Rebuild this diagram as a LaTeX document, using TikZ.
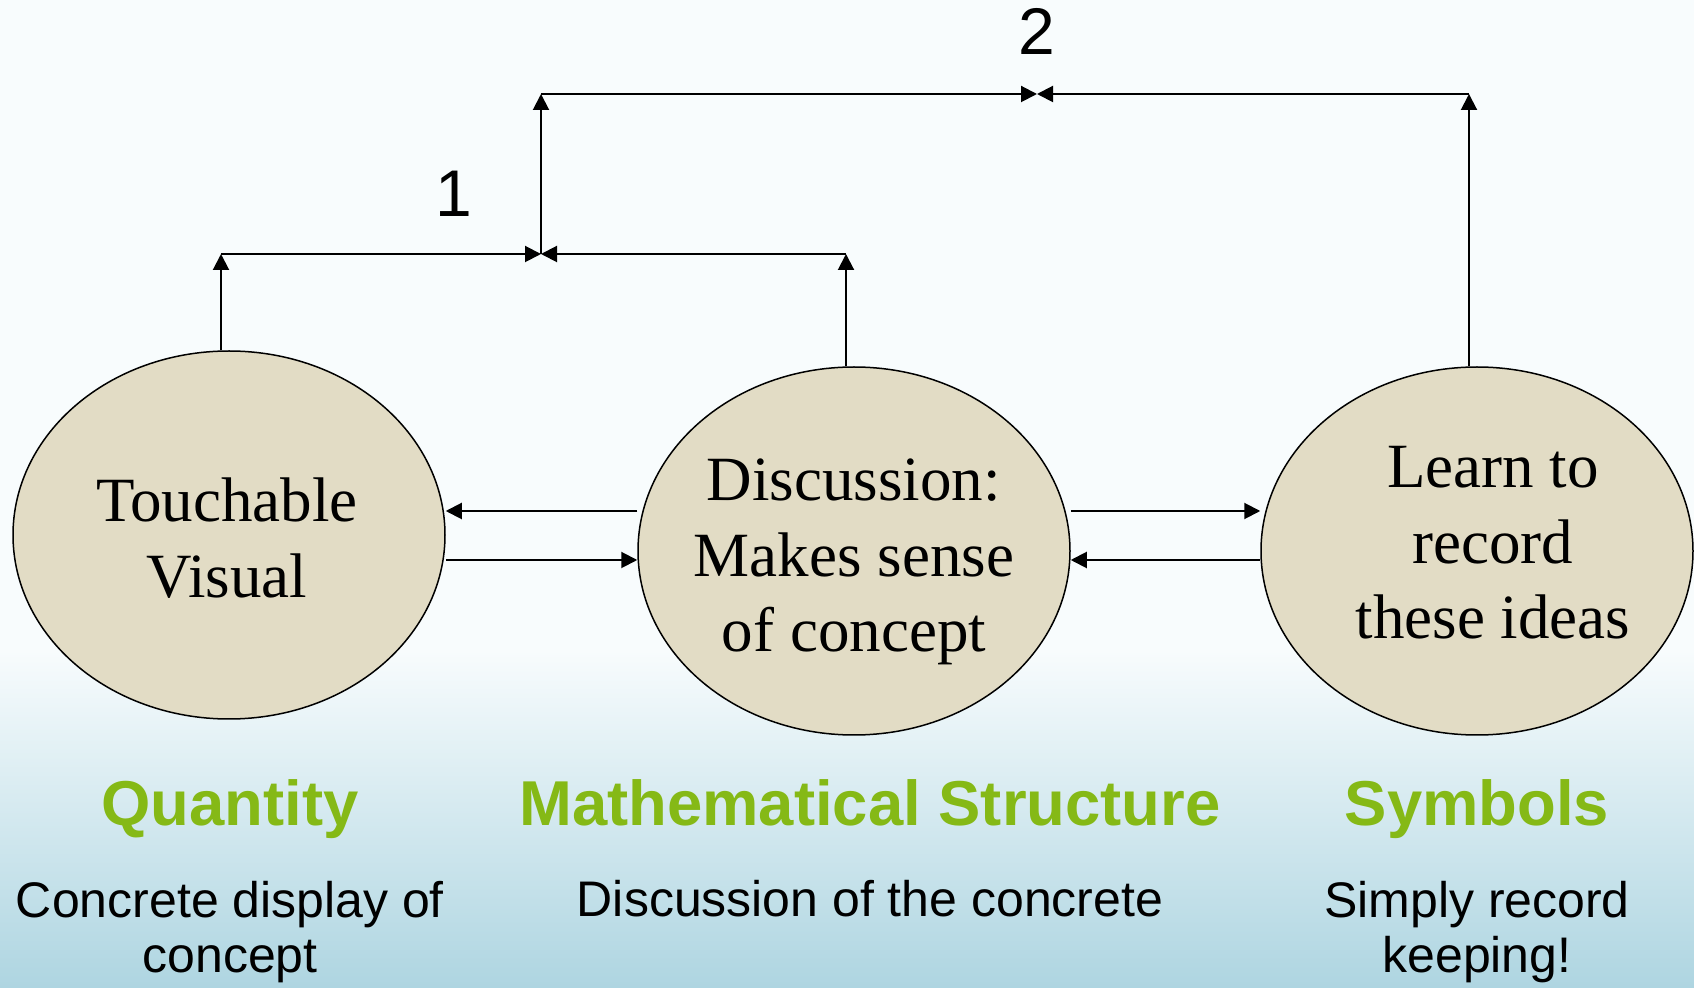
\documentclass[tikz,border=0pt]{standalone}
\usepackage{fontspec}
\setmainfont{Liberation Serif}
\setsansfont{Liberation Sans}
\usetikzlibrary{arrows.meta,shapes.geometric}
\definecolor{ovaltan}{HTML}{E2DCC5}
\definecolor{headgreen}{HTML}{85B916}
\definecolor{skytop}{HTML}{F8FCFD}
\definecolor{skybottom}{HTML}{AED5E1}

\begin{document}
\begin{tikzpicture}[x=0.5pt,y=-0.5pt,
  oval/.style={ellipse,draw,line width=0.75pt,fill=ovaltan,minimum width=216pt,minimum height=184pt,inner sep=0pt},
  ovaltext/.style={align=center,inner sep=0pt,font=\fontsize{31.5}{37.8}\selectfont},
  link/.style={line width=1pt,-{Triangle[length=8pt,width=8pt]}},
  heading/.style={font=\sffamily\bfseries\fontsize{31.7}{38}\selectfont,text=headgreen},
  caption/.style={font=\sffamily\fontsize{25}{27.5}\selectfont,align=center},
  tag/.style={font=\sffamily\fontsize{33}{40}\selectfont}]
  % background
  \fill[skytop] (0,0) rectangle (1694,650);
  \shade[top color=skytop,bottom color=skybottom] (0,650) rectangle (1694,988);
  \useasboundingbox (0,0) rectangle (1694,988);

  % the three ovals
  \node[oval] (touch) at (229,535) {};
  \node[oval] (discuss) at (854,551) {};
  \node[oval] (learn) at (1477,551) {};
  \node[ovaltext] (touchtext) at (227,538) {Touchable\\Visual};
  \node[ovaltext] (discusstext) at (854,562) {Discussion:\\Makes sense\\of concept};
  \node[ovaltext] (learntext) at (1493,543) {Learn to\\record\\these ideas};

  % joins of the brackets
  \coordinate (join1) at (541,254);
  \coordinate (join2) at (1037,94);
  \coordinate (touchup) at ([xshift=-4pt]touch.north);
  \coordinate (discussup) at ([xshift=-4pt]discuss.north);
  \coordinate (learnup) at ([xshift=-4pt]learn.north);

  \draw[link] (touchup) -- (touchup |- join1);
  \draw[link] (touchup |- join1) -- (join1);
  \draw[link] (discussup) -- (discussup |- join1);
  \draw[link] (discussup |- join1) -- (join1);
  \draw[link] (join1) -- (join1 |- join2);
  \draw[link] (join1 |- join2) -- (join2);
  \draw[link] (learnup) -- (learnup |- join2);
  \draw[link] (learnup |- join2) -- (join2);

  \node[tag] (one) at (454,194) {1};
  \node[tag] (two) at (1037,31) {2};

  % arrows between the ovals
  \coordinate (upper) at (0,511);
  \coordinate (lower) at (0,560);
  \draw[link] (discuss.west |- upper) -- (touch.east |- upper);
  \draw[link] (touch.east |- lower) -- (discuss.west |- lower);
  \draw[link] (discuss.east |- upper) -- (learn.west |- upper);
  \draw[link] (learn.west |- lower) -- (discuss.east |- lower);

  % headings and captions
  \node[heading,anchor=base] (quantity) at (230,826) {Quantity};
  \node[heading,anchor=base] (structure) at (870,826) {Mathematical Structure};
  \node[heading,anchor=base] (symbols) at (1477,826) {Symbols};
  \node[caption,anchor=base] (quantitytext) at (230,972) {Concrete display of\\concept};
  \node[caption,anchor=base] (structuretext) at (870,917) {Discussion of the concrete};
  \node[caption,anchor=base] (symbolstext) at (1477,972) {Simply record\\keeping!};
\end{tikzpicture}
\end{document}
